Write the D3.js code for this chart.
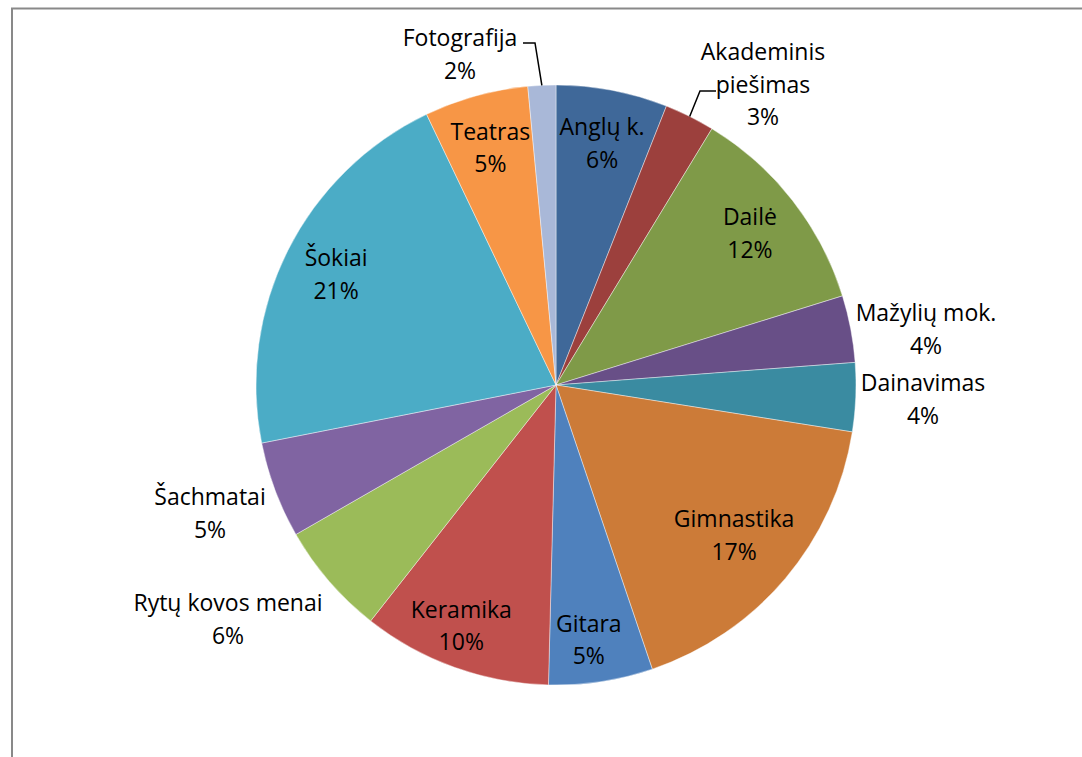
<!DOCTYPE html>
<html><head><meta charset="utf-8">
<script src="https://cdn.jsdelivr.net/npm/d3@7"></script>
<style>html,body{margin:0;padding:0;background:#fff;}svg{display:block;}</style>
</head><body>
<svg id="c" width="1082" height="757"></svg>
<script>
const categories = ["Anglų k.","Akademinis piešimas","Dailė","Mažylių mok.","Dainavimas","Gimnastika","Gitara","Keramika","Rytų kovos menai","Šachmatai","Šokiai","Teatras","Fotografija"];
const values = [6.0, 2.7, 11.5, 3.6, 3.7, 17.3, 5.6, 10.2, 6.1, 5.2, 21.0, 5.6, 1.5];
const pctLabels = ["6%","3%","12%","4%","4%","17%","5%","10%","6%","5%","21%","5%","2%"];
const colors = ["#3F6899","#9C403D","#7F9A48","#684F87","#3A8BA1","#CC7B38","#4F81BD","#C0504D","#9BBB59","#8064A2","#4BACC6","#F79646","#A9B8D8"];

const svg = d3.select("#c");
const W = 1082, H = 757;
svg.append("path").attr("d", `M12,${H+5} L12,8.5 L${W+5},8.5`).attr("fill","none").attr("stroke","#898989").attr("stroke-width",2);

const cx = 556, cy = 385, R = 300;
const g = svg.append("g").attr("transform", `translate(${cx},${cy})`);
const pie = d3.pie().sort(null).value(d => d.v);
const data = categories.map((c,i)=>({c, v: values[i], p: pctLabels[i], col: colors[i]}));
const arcs = pie(data);
const arc = d3.arc().innerRadius(0).outerRadius(R);
g.selectAll("path.s").data(arcs).enter().append("path").attr("class","s")
  .attr("d", arc).attr("fill", d=>d.data.col).attr("stroke","#fff").attr("stroke-width",0.6).attr("stroke-opacity",0.7);

const font = "'Open Sans', sans-serif";
const fs = 23, lh = 32.5;
const edgeArc = d3.arc().innerRadius(R).outerRadius(R);
const insideR = {"Gimnastika":233, "Gitara":258, "Keramika":256};
const insideShift = {"Gitara":-6, "Keramika":-8};

const outside = {
  "Fotografija": {x:460, y:38, lines:["Fotografija"], leader:{elbow:[535,43], end:[523,43]}},
  "Akademinis piešimas": {x:763, y:52, lines:["Akademinis","piešimas"], leader:{elbow:[700,91], end:[716,91]}},
  "Mažylių mok.": {x:926, y:313, lines:["Mažylių mok."]},
  "Dainavimas": {x:923, y:383, lines:["Dainavimas"]},
  "Šachmatai": {x:210, y:497, lines:["Šachmatai"]},
  "Rytų kovos menai": {x:228, y:603, lines:["Rytų kovos menai"]}
};

arcs.forEach(a => {
  const o = outside[a.data.c];
  let x, y, lines;
  if (o) {
    x = o.x; y = o.y; lines = o.lines.concat([a.data.p]);
    if (o.leader) {
      const s = edgeArc.centroid(a);
      svg.append("path").attr("d", `M${s[0]+cx},${s[1]+cy} L${o.leader.elbow[0]},${o.leader.elbow[1]} L${o.leader.end[0]},${o.leader.end[1]}`)
        .attr("fill","none").attr("stroke","#000").attr("stroke-width",1.5);
    }
  } else {
    const r = insideR[a.data.c] || 246;
    const c = d3.arc().innerRadius(r).outerRadius(r).centroid(a);
    x = c[0]+cx + (insideShift[a.data.c] || 0); y = c[1]+cy - lh/2; lines = [a.data.c, a.data.p];
  }
  const t = svg.append("text").attr("font-family", font).attr("font-size", fs).attr("fill","#000").attr("text-anchor","middle");
  lines.forEach((ln,i)=>{
    t.append("tspan").attr("x", x).attr("y", y + i*lh).attr("dy","0.35em").text(ln);
  });
});
</script>
</body></html>
